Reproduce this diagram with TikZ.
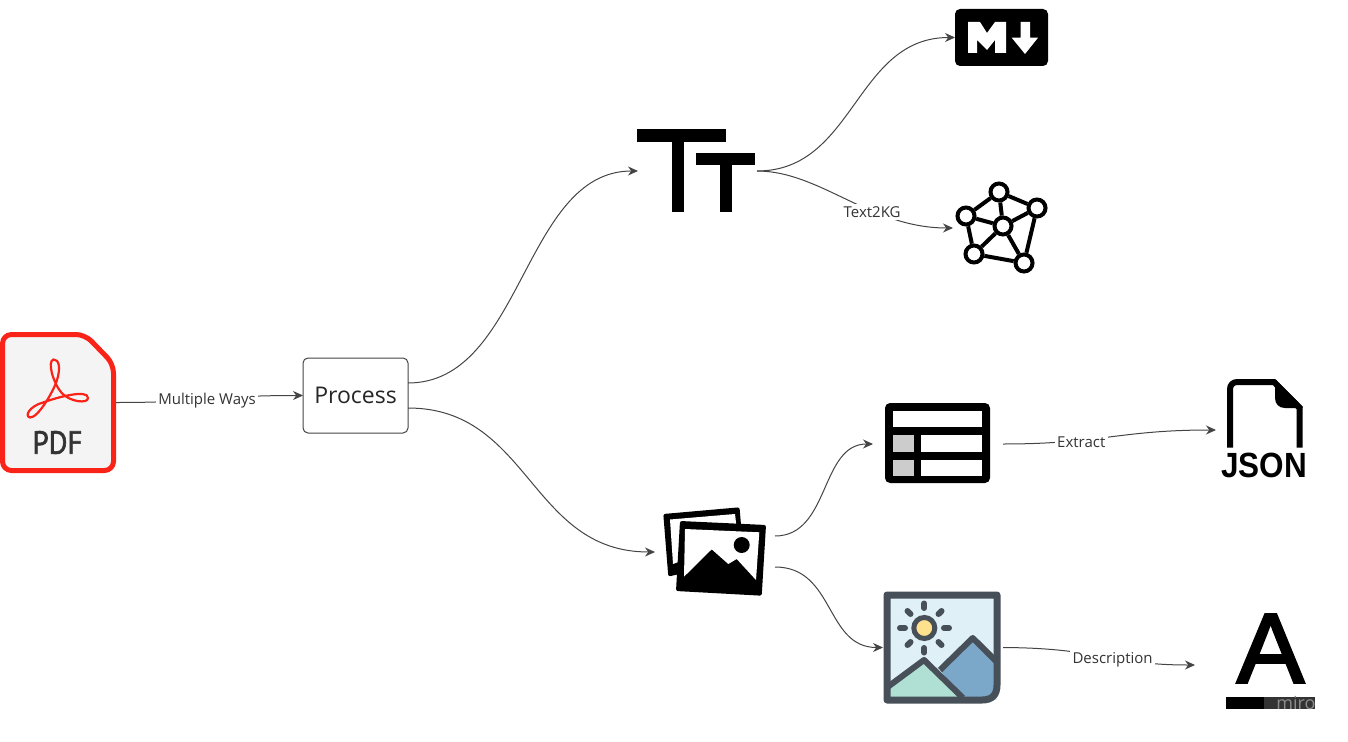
\documentclass[tikz,border=0pt]{standalone}
\usepackage{fontspec}
\setmainfont{Open Sans}
\newfontfamily\pdffont[FakeBold=2]{PT Sans}
\newfontfamily\boldfont{Liberation Sans}
\newfontfamily\letterfont[FakeBold=2.5]{Liberation Sans}
\usetikzlibrary{arrows.meta}
\newcommand{\setfs}[1]{\fontsize{#1}{#1}\selectfont}
\definecolor{linegray}{HTML}{444444}
\definecolor{textgray}{HTML}{333333}
\definecolor{pdfred}{HTML}{FA2318}
\definecolor{pdfback}{HTML}{F4F4F4}
\definecolor{slate}{HTML}{474F59}
\definecolor{skyblue}{HTML}{E0F0F7}
\definecolor{hillblue}{HTML}{7BA7C9}
\definecolor{hillgreen}{HTML}{B0E0D3}
\definecolor{sunyellow}{HTML}{FFE08C}
\tikzset{
    iconbox/.style = {inner sep = 0, outer sep = 0},
    flow/.style = {draw = linegray, line width = 1pt, -{Stealth[length = 10pt, width = 9pt]}},
    lbl/.style = {fill = white, text = textgray, inner sep = 2.5pt, yshift = -1.5pt, font = \setfs{15}},
    graphdot/.style = {circle, draw, line width = 4pt, fill = white, minimum size = 17pt, inner sep = 0},
    graphedge/.style = {line width = 4pt},
    ray/.style = {slate, line width = 6pt, line cap = round},
    hill/.style = {slate, line width = 6pt, line join = round}
}
\begin{document}
\begin{tikzpicture}[x = 1pt, y = -1pt]
        \useasboundingbox (0,0) rectangle (1348,741);

        %PDF
        \node [iconbox, minimum width = 116pt, minimum height = 141pt]
        (pdf)at(58,402.5){};
        \draw [pdfred, line width = 5pt, fill = pdfback, line join = round, rounded corners = 9pt]
        (2.5,334.5)--(85,334.5)--(113.5,364)--(113.5,470.5)--(2.5,470.5)--cycle;
        \draw [pdfred, line width = 2.2pt]
        (53.5,359.5)..controls (59,359) and (61,368)..(56.7,381)
        ..controls (53,392) and (38,418)..(30,417.5)
        ..controls (24,416) and (30,406)..(43,402.5)
        ..controls (58,397) and (88,389)..(88,398)
        ..controls (88,404) and (70,402)..(61.7,393)
        ..controls (53,383) and (47,361)..(53.5,359.5)--cycle;
        \node [iconbox, text = textgray, font = \pdffont\setfs{32}]
        (pdftext)at(57.5,442.5){\scalebox{.9}[1]{PDF}};

        %Process
        \node [draw = linegray, line width = 1pt, rounded corners = 5pt, fill = white, iconbox,
        minimum width = 105pt, minimum height = 75pt, font = \setfs{23}, text = black!85]
        (process)at(355.5,395.5){\raisebox{-1pt}{Process}};

        %Text
        \node [iconbox, minimum width = 119pt, minimum height = 85pt]
        (tt)at(697.5,171){};
        \fill (637,129) rectangle (726,142);
        \fill (672,129) rectangle (684,212);
        \fill (696,153) rectangle (755,165);
        \fill (720,153) rectangle (732,212);

        %Markdown
        \node [iconbox, fill = black, rounded corners = 5pt, minimum width = 93pt, minimum height = 57pt]
        (md)at(1001.5,37.5){};
        \fill [white] (968,53)--(968,22)--(980,22)--(987,33)--(995,22)--(1006,22)--(1006,53)
        --(995,53)--(995,40)--(987,50)--(977,40)--(977,53)--cycle;
        \fill [white] (1020.7,22)--(1030,22)--(1030,37.7)--(1038,37.7)--(1025,54)--(1011.7,37.7)--(1020.7,37.7)--cycle;

        %Knowledge graph
        \node [iconbox, minimum width = 94pt, minimum height = 90pt]
        (kg)at(1000,228){};
        \node [graphdot] (g1)at(999,192){};
        \node [graphdot] (g2)at(1037,208){};
        \node [graphdot] (g3)at(966,216){};
        \node [graphdot] (g4)at(1003,226){};
        \node [graphdot] (g5)at(974,254){};
        \node [graphdot] (g6)at(1024,263){};
        \draw [graphedge] (g3)--(g1);
        \draw [graphedge] (g1)--(g2);
        \draw [graphedge] (g1)--(g4);
        \draw [graphedge] (g2)--(g4);
        \draw [graphedge] (g3)--(g4);
        \draw [graphedge] (g4)--(g5);
        \draw [graphedge] (g4)--(g6);
        \draw [graphedge] (g2)--(g6);
        \draw [graphedge] (g3)--(g5);
        \draw [graphedge] (g5)--(g6);

        %Table
        \node [iconbox, minimum width = 130pt, minimum height = 80pt]
        (table)at(938,444){};
        \fill [rounded corners = 5pt] (885,403) rectangle (990,483);
        \fill [white] (893,411) rectangle (982,427);
        \fill [white] (921,435) rectangle (982,452);
        \fill [white] (921,460) rectangle (982,476);
        \fill [black!20] (893,435) rectangle (914,452);
        \fill [black!20] (893,460) rectangle (914,476);

        %Images
        \node [iconbox, minimum width = 120pt, minimum height = 90pt]
        (images)at(715,552){};
        \fill [rounded corners = 2pt] (663.3,514)--(739.5,507.3)--(744,560)--(668.3,576.5)--cycle;
        \fill [white] (670,519.5)--(735,514)--(738,540)--(673,564)--cycle;
        \fill [rounded corners = 2pt] (680,521)--(766,525)--(761.7,595.7)--(676,591)--cycle;
        \fill [white] (685,529)--(759.3,532.3)--(756,580)--(736.7,559)--(728.3,564)--(711.7,549.3)--(684,576.7)--cycle;
        \fill (741.7,545) circle (8);

        %Photo
        \node [iconbox, minimum width = 120pt, minimum height = 112pt]
        (photo)at(943,647.5){};
        \fill [skyblue] (887,595)--(997,595)--(997,700)--(887,700)--cycle;
        \fill [hillblue] (940,670)--(972.7,638)--(997,662)--(997,685)
        ..controls (997,695) and (992,700)..(982,700)--(963,700)--cycle;
        \draw [hill] (940,670)--(972.7,638)--(997,662);
        \fill [hillgreen] (888,686.7)--(924,660)--(963,698)--(963,700)--(887,700)--cycle;
        \draw [hill] (888,686.7)--(924,660)--(963,698);
        \draw [slate, line width = 7pt, line join = round] (887,595)--(997,595)--(997,685)
        ..controls (997,695) and (992,700)..(982,700)--(887,700)--cycle;
        \draw [slate, line width = 5pt, fill = sunyellow] (924.3,628) circle (10.5);
        \draw [ray] (924.3,603.5)--(924.3,608);
        \draw [ray] (924.3,648)--(924.3,652.5);
        \draw [ray] (900,628)--(905,628);
        \draw [ray] (944,628)--(949,628);
        \draw [ray] (907.5,611)--(910.5,614);
        \draw [ray] (938.5,614)--(941.5,611);
        \draw [ray] (907.5,645)--(910.5,642);
        \draw [ray] (938.5,642)--(941.5,645);

        %JSON
        \node [iconbox, minimum width = 92pt, minimum height = 100pt]
        (json)at(1262,430){};
        \draw [line width = 6pt, rounded corners = 7pt] (1230,447.7)--(1230,382)--(1275,382);
        \draw [line width = 6pt] (1274,382)--(1299.7,408)--(1299.7,447.7);
        \fill (1275,379)--(1302.7,406.7)--(1302.7,408)--(1285,408)
        ..controls (1279,408) and (1275,404)..(1275,398)--cycle;
        \node [iconbox, font = \boldfont\bfseries\setfs{35}]
        (jsontext)at(1264,465.5){\scalebox{.9}[1]{JSON}};

        %Answer
        \node [iconbox, minimum width = 121pt, minimum height = 100pt]
        (answer)at(1255.5,665){};
        \node [iconbox, font = \letterfont\setfs{99}]
        (letter)at(1270.5,648.5){\scalebox{1.02}[1]{A}};
        \fill (1226,697) rectangle (1264,709);
        \fill [textgray] (1264,697) rectangle (1315,709);
        \node [iconbox, text = black!45, font = \setfs{18}]
        (miro)at(1296,702.5){miro};

        %Connectors
        \draw [flow] (pdf.east)..controls (210,402.5) and (210,395.5)..(process.west)
        node [lbl, pos = .48] (l1) {Multiple Ways};
        \draw [flow] ([yshift = 12.5pt]process.east)..controls (523,383) and (523,171)..(tt.west);
        \draw [flow] ([yshift = -12.5pt]process.east)..controls (530,408) and (530,552)..(images.west);
        \draw [flow] (tt.east)..controls (855,171) and (855,37.5)..(md.west);
        \draw [flow] (tt.east)..controls (820,171) and (870,228)..(kg.west)
        node [lbl, pos = .63] (l2) {Text2KG};
        \draw [flow] ([yshift = 16pt]images.east)..controls (830,536) and (820,444)..(table.west);
        \draw [flow] ([yshift = -15pt]images.east)..controls (835,567) and (825,647.5)..(photo.west);
        \draw [flow] (table.east)..controls (1100,444) and (1120,430)..(json.west)
        node [lbl, pos = .34] (l3) {Extract};
        \draw [flow] (photo.east)..controls (1100,648) and (1110,665)..(answer.west)
        node [lbl, pos = .56] (l4) {Description};
    \end{tikzpicture}
\end{document}
